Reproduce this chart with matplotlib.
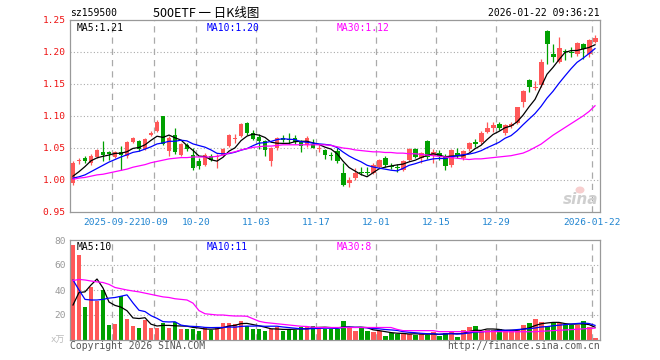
import matplotlib
matplotlib.use("Agg")
import matplotlib.pyplot as plt
import numpy as np
import pandas as pd
from matplotlib.patches import Ellipse

# daily K-line for sz159500, one value per trading day
date_idx = [7, 14, 21, 31, 41, 51, 61, 71, 87]
date_labels = ["2025-09-22", "10-09", "10-20", "11-03", "11-17",
               "12-01", "12-15", "12-29", "2026-01-22"]

opens = [0.996, 1.030, 1.035, 1.026, 1.036, 1.043, 1.043, 1.036, 1.044, 1.037,
         1.060, 1.061, 1.049, 1.070, 1.077, 1.100, 1.046, 1.070, 1.039, 1.054,
         1.039, 1.030, 1.023, 1.0375, 1.036, 1.039, 1.053, 1.064, 1.069, 1.0895,
         1.073, 1.0677, 1.061, 1.030, 1.0495, 1.066, 1.063, 1.065, 1.060, 1.055,
         1.057, 1.049, 1.047, 1.039, 1.046, 1.011, 0.995, 1.0026, 1.0115, 1.012,
         1.0114, 1.021, 1.035, 1.022, 1.020, 1.016, 1.031, 1.048, 1.035, 1.061,
         1.0375, 1.042, 1.037, 1.0234, 1.0427, 1.035, 1.048, 1.058, 1.060, 1.0755,
         1.082, 1.0875, 1.073, 1.0845, 1.0895, 1.1224, 1.156, 1.1435, 1.1484, 1.233,
         1.197, 1.185, 1.2016, 1.200, 1.1964, 1.2125, 1.197, 1.216]
highs = [1.030, 1.034, 1.037, 1.040, 1.049, 1.061, 1.046, 1.045, 1.053, 1.061,
         1.067, 1.063, 1.066, 1.077, 1.093, 1.100, 1.068, 1.082, 1.058, 1.058,
         1.050, 1.035, 1.042, 1.040, 1.040, 1.050, 1.072, 1.072, 1.089, 1.091,
         1.078, 1.0714, 1.063, 1.052, 1.067, 1.070, 1.073, 1.071, 1.062, 1.069,
         1.064, 1.055, 1.049, 1.044, 1.0495, 1.026, 1.005, 1.018, 1.021, 1.021,
         1.026, 1.033, 1.037, 1.026, 1.0245, 1.032, 1.050, 1.050, 1.044, 1.063,
         1.048, 1.047, 1.040, 1.049, 1.0495, 1.047, 1.059, 1.064, 1.076, 1.090,
         1.091, 1.090, 1.088, 1.090, 1.1145, 1.141, 1.158, 1.154, 1.189, 1.235,
         1.2125, 1.223, 1.204, 1.208, 1.2155, 1.214, 1.221, 1.227]
lows = [0.992, 1.025, 1.027, 1.024, 1.034, 1.030, 1.032, 1.034, 1.016, 1.035,
        1.058, 1.046, 1.047, 1.068, 1.075, 1.054, 1.038, 1.041, 1.037, 1.045,
        1.016, 1.017, 1.022, 1.029, 1.018, 1.037, 1.051, 1.058, 1.067, 1.071,
        1.062, 1.0484, 1.038, 1.022, 1.047, 1.059, 1.057, 1.056, 1.043, 1.052,
        1.0495, 1.044, 1.033, 1.031, 1.026, 0.990, 0.989, 1.000, 1.008, 1.008,
        1.009, 1.019, 1.021, 1.017, 1.013, 1.014, 1.029, 1.034, 1.027, 1.033,
        1.026, 1.031, 1.016, 1.021, 1.034, 1.031, 1.046, 1.051, 1.057, 1.074,
        1.0755, 1.078, 1.071, 1.082, 1.088, 1.1145, 1.137, 1.1406, 1.146, 1.182,
        1.185, 1.183, 1.1875, 1.1927, 1.194, 1.1886, 1.1927, 1.214]
closes = [1.027, 1.031, 1.030, 1.038, 1.047, 1.039, 1.041, 1.043, 1.039, 1.059,
          1.065, 1.048, 1.064, 1.074, 1.091, 1.056, 1.066, 1.043, 1.056, 1.048,
          1.018, 1.022, 1.039, 1.031, 1.0375, 1.048, 1.070, 1.065, 1.087, 1.073,
          1.064, 1.0615, 1.047, 1.050, 1.065, 1.0625, 1.062, 1.060, 1.053, 1.065,
          1.050, 1.0495, 1.039, 1.038, 1.029, 0.992, 1.000, 1.011, 1.011, 1.011,
          1.0234, 1.031, 1.0234, 1.021, 1.019, 1.030, 1.048, 1.036, 1.042, 1.0355,
          1.044, 1.038, 1.022, 1.047, 1.0375, 1.045, 1.0573, 1.057, 1.074, 1.082,
          1.086, 1.081, 1.0855, 1.0875, 1.1136, 1.139, 1.1458, 1.144, 1.185, 1.2125,
          1.1927, 1.206, 1.2006, 1.199, 1.2136, 1.204, 1.218, 1.222]
volumes = [76, 68, 26.4, 42.4, 31.2, 40, 12, 12.8, 35.5, 16.8,
           11.2, 9.6, 16, 9.6, 9.6, 13.6, 9.6, 14.4, 8.8, 8.8,
           8.8, 7.2, 10.4, 8, 10.4, 13.6, 13.6, 12.8, 15.2, 11.2,
           8.8, 8.8, 7.2, 8.8, 10.4, 7.2, 8.8, 8, 10.4, 10.4,
           11.2, 10.4, 8.8, 8.8, 8.8, 15.2, 10.4, 7.2, 9.6, 7.2,
           6.4, 7.2, 3.2, 5.6, 4.8, 5.6, 4.8, 4, 4.8, 4,
           6.4, 3.2, 5.6, 7.2, 2.4, 8, 10.4, 11.2, 6.4, 8,
           8, 8.8, 7.2, 7.2, 8, 12, 13.6, 16.8, 14.4, 11.2,
           14.4, 13.6, 12, 12, 12, 15.2, 10.4, 1.6]

# moving averages: the first bars depend on days before the window
ma5_head = [1.006, 1.013, 1.021, 1.030]
ma10_head = [1.003, 1.005, 1.008, 1.013, 1.018, 1.023, 1.028, 1.032, 1.036]
ma30 = [1.001, 1.003, 1.004, 1.006, 1.008, 1.009, 1.011, 1.013, 1.015, 1.017,
        1.020, 1.022, 1.024, 1.027, 1.029, 1.031, 1.033, 1.034, 1.035, 1.035,
        1.036, 1.036, 1.036, 1.036, 1.037, 1.039, 1.042, 1.044, 1.047, 1.049,
        1.051, 1.052, 1.053, 1.053, 1.054, 1.055, 1.055, 1.055, 1.055, 1.055,
        1.055, 1.055, 1.055, 1.054, 1.052, 1.050, 1.049, 1.047, 1.046, 1.045,
        1.044, 1.044, 1.043, 1.043, 1.042, 1.042, 1.041, 1.041, 1.040, 1.039,
        1.038, 1.037, 1.036, 1.035, 1.034, 1.033, 1.032, 1.033, 1.033, 1.034,
        1.035, 1.036, 1.037, 1.038, 1.040, 1.042, 1.046, 1.051, 1.056, 1.063,
        1.070, 1.076, 1.082, 1.088, 1.094, 1.100, 1.107, 1.116]
vol_ma5_head = [28, 38, 38.5, 44]
vol_ma10_head = [48, 40, 32.5, 32, 32, 32.5, 33.5, 34, 35]
vol_ma30 = [47.5, 48.5, 48, 47.2, 46.5, 46, 44.5, 42, 41, 40,
            39.2, 38.5, 37.5, 36.5, 35.5, 34.5, 34, 33, 32.5, 32,
            29.5, 23.5, 21, 20.5, 20, 20, 19.5, 19.2, 19.2, 19,
            17, 15, 14, 13.5, 13, 12.5, 12, 11.5, 11, 10.8,
            10.2, 10, 10, 10, 10, 10, 10, 10, 10, 10,
            10, 10, 10, 10, 8.5, 7.5, 7.5, 7.5, 7.5, 7.5,
            7.5, 6.7, 6.7, 6.7, 6.7, 6.7, 6.7, 6.7, 6.7, 6.7,
            6.7, 6.7, 6.6, 6.6, 6.6, 6.6, 6.6, 6.6, 7, 7.2,
            7.5, 7.8, 8, 8.3, 8.6, 8.9, 9.2, 9.5]


def moving_avg(values, window, head):
    ma = pd.Series(values).rolling(window).mean().to_numpy()
    ma[:len(head)] = head
    return ma


W, H = 660, 360
RED = "#ff5858"
GREEN = "#00a000"
GRID = "#aaaaaa"
MONO = "DejaVu Sans Mono"


def fx(x):
    return x / W


def fy(y):
    return 1 - y / H


fig = plt.figure(figsize=(6.6, 3.6), dpi=100)
fig.patch.set_facecolor("white")

n = len(closes)
x = np.arange(n)
o = np.array(opens)
c = np.array(closes)
up = c >= o
colors = [RED if u else GREEN for u in up]
body_bottom = np.minimum(o, c)
body_height = np.maximum(np.abs(c - o), 0.0016)

# ---- price panel
ax = fig.add_axes([fx(70), fy(212), fx(530), 192 / H])
ax.set_xlim(-0.5, n - 0.17)
ax.set_ylim(0.95, 1.25)
for lvl in [1.00, 1.05, 1.10, 1.15, 1.20]:
    ax.axhline(lvl, color=GRID, lw=0.8, ls=(0, (1, 2)), zorder=0)
for d in date_idx:
    ax.axvline(d - 0.45, color=GRID, lw=0.9, ls=(0, (5, 4)), zorder=0)

ax.vlines(x, lows, highs, colors=colors, lw=0.9, zorder=2)
ax.bar(x, body_height, bottom=body_bottom, width=0.83, color=colors, lw=0, zorder=3)

ax.plot(x, moving_avg(closes, 5, ma5_head), color="black", lw=0.9, zorder=4)
ax.plot(x, moving_avg(closes, 10, ma10_head), color="#0000ff", lw=0.9, zorder=4)
ax.plot(x, ma30, color="#ff00ff", lw=0.9, zorder=4)

ax.set_yticks([0.95, 1.00, 1.05, 1.10, 1.15, 1.20, 1.25])
ax.set_yticklabels(["0.95", "1.00", "1.05", "1.10", "1.15", "1.20", "1.25"],
                   color="#ee1111", fontsize=6.8, family=MONO)
ax.set_xticks([d - 0.45 for d in date_idx])
ax.set_xticklabels(date_labels, color="#1f84d0", fontsize=6.8, family=MONO)
ax.tick_params(length=0, pad=3)
ax.tick_params(axis="x", pad=4)
for s in ax.spines.values():
    s.set_color("#999999")
    s.set_linewidth(0.9)

ax.text(0.012, 0.985, "MA5:1.21", transform=ax.transAxes, fontsize=7, family=MONO,
        color="black", va="top", ha="left")
ax.text(0.257, 0.985, "MA10:1.20", transform=ax.transAxes, fontsize=7, family=MONO,
        color="#0000ff", va="top", ha="left")
ax.text(0.503, 0.985, "MA30:1.12", transform=ax.transAxes, fontsize=7, family=MONO,
        color="#ff00ff", va="top", ha="left")

# faint sina watermark: eye logo plus text
fig.patches.append(Ellipse((fx(580), fy(190)), fx(9), 7 / H, transform=fig.transFigure,
                           facecolor="#f7cfcf", edgecolor="none", zorder=5))
fig.text(fx(581), fy(200), "sina", fontsize=11, fontweight="bold", style="italic",
         color="#cfcfcf", ha="center", va="center", family="DejaVu Sans")

# ---- volume panel
axv = fig.add_axes([fx(70), fy(340), fx(530), 100 / H])
axv.set_xlim(-0.5, n - 0.17)
axv.set_ylim(0, 80)
for lvl in [20, 40, 60]:
    axv.axhline(lvl, color=GRID, lw=0.8, ls=(0, (1, 2)), zorder=0)
for d in date_idx:
    axv.axvline(d - 0.45, color=GRID, lw=0.9, ls=(0, (5, 4)), zorder=0)
axv.bar(x, volumes, width=0.83, color=colors, lw=0, zorder=2)
axv.plot(x, moving_avg(volumes, 5, vol_ma5_head), color="black", lw=0.9, zorder=3)
axv.plot(x, moving_avg(volumes, 10, vol_ma10_head), color="#0000ff", lw=0.9, zorder=3)
axv.plot(x, vol_ma30, color="#ff00ff", lw=0.9, zorder=3)
axv.set_yticks([20, 40, 60, 80])
axv.set_yticklabels(["20", "40", "60", "80"], color="#999999", fontsize=6.8, family=MONO)
axv.set_xticks([])
axv.tick_params(length=0, pad=3)
for s in axv.spines.values():
    s.set_color("#999999")
    s.set_linewidth(0.9)

axv.text(0.012, 0.985, "MA5:10", transform=axv.transAxes, fontsize=7, family=MONO,
         color="black", va="top", ha="left")
axv.text(0.257, 0.985, "MA10:11", transform=axv.transAxes, fontsize=7, family=MONO,
         color="#0000ff", va="top", ha="left")
axv.text(0.503, 0.985, "MA30:8", transform=axv.transAxes, fontsize=7, family=MONO,
         color="#ff00ff", va="top", ha="left")
fig.text(fx(65), fy(340), "x万", fontsize=6.5, color="#bbbbbb", ha="right", va="center",
         family=[MONO, "Noto Sans CJK SC"])

# ---- header and footer
fig.text(fx(70), fy(13), "sz159500", fontsize=7, family=MONO, ha="left", va="center")
fig.text(fx(206), fy(13), "500ETF 一 日K线图", fontsize=9, ha="center", va="center",
         family=["Noto Sans CJK SC", "DejaVu Sans"])
fig.text(fx(600), fy(13), "2026-01-22 09:36:21", fontsize=7, family=MONO,
         ha="right", va="center")
fig.text(fx(70), fy(346), "Copyright 2026 SINA.COM", fontsize=7, family=MONO,
         color="#555555", ha="left", va="center")
fig.text(fx(600), fy(346), "http://finance.sina.com.cn", fontsize=7, family=MONO,
         color="#555555", ha="right", va="center")

fig.savefig("out.png", dpi=100)
